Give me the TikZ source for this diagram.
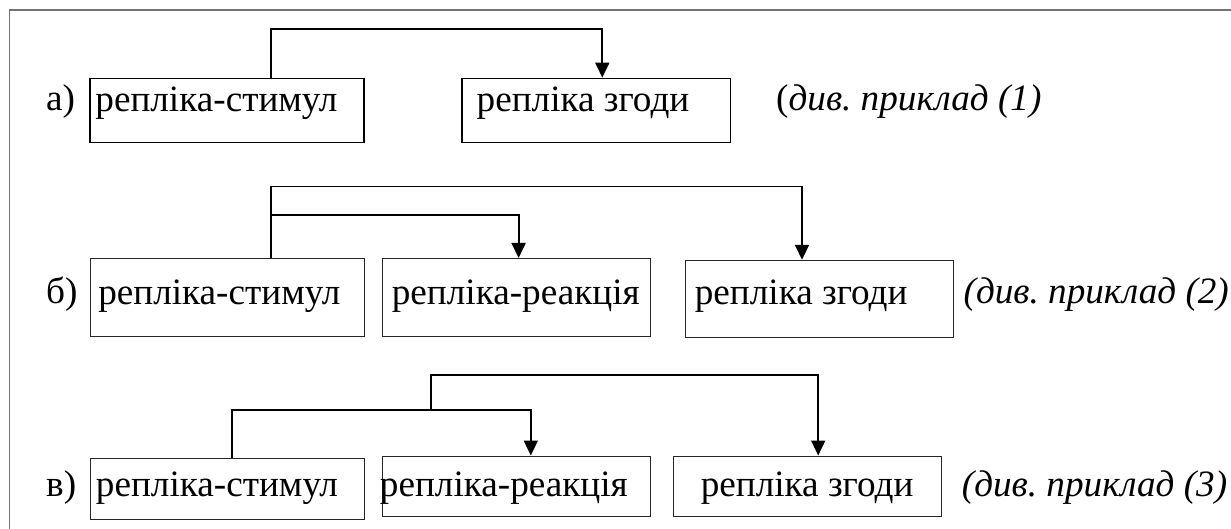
\documentclass[tikz,border=0pt]{standalone}
\usepackage{fontspec}
\setmainfont{Liberation Serif}
\usetikzlibrary{arrows.meta}
\frenchspacing
\newcommand\boxtxt[3]{\makebox[#1][l]{\hspace*{#2}#3}}
\newcommand\boxctr[2]{\makebox[#1][c]{#2}}
\tikzset{
  rbox/.style={draw, inner sep=0pt, anchor=north west, font=\fontsize{37.2}{42}\selectfont},
  thickbox/.style={rbox, line width=1.8pt},
  thinbox/.style={rbox, line width=0.9pt, draw=black!85},
  lbl/.style={inner sep=0pt, anchor=base west, font=\fontsize{37.2}{42}\selectfont},
  conn/.style={line width=1.8pt, line join=miter, -{Triangle[length=15pt,width=14pt]}},
  wire/.style={line width=1.8pt, line join=miter},
  frame/.style={line width=1.2pt, draw=black!55}
}
\begin{document}
\begin{tikzpicture}[x=1pt,y=-1pt]
\useasboundingbox (0,0) rectangle (1231,529);
\draw[frame] (1232,10) -- (9.4,10) -- (9.4,530);

% row a
\node[lbl] (la) at (46,111) {а)};
\node[thickbox, text height=33.4pt, text depth=30.7pt] (a1) at (89.4,77.6) {\boxtxt{273.6pt}{5.1pt}{репліка-стимул}};
\node[thickbox, text height=33.4pt, text depth=30.7pt] (a2) at (461.3,77.6) {\boxtxt{268.2pt}{14.5pt}{репліка згоди}};
\node[lbl] (na) at (776,111) {(\textit{див. приклад (1)}};
\draw[conn] ([xshift=181.2pt]a1.north west) |- (602.3,29.4) -- (602.3,0 |- a2.north);

% row b
\node[lbl] (lb) at (46,303.6) {б)};
\node[thinbox, text height=45.6pt, text depth=32.1pt] (b1) at (90,258) {\boxtxt{273.7pt}{7.8pt}{репліка-стимул}};
\node[thinbox, text height=45.6pt, text depth=32.1pt] (b2) at (382,258) {\boxtxt{268pt}{9.4pt}{репліка-реакція}};
\node[thinbox, text height=43.8pt, text depth=33.8pt] (b3) at (685,259.8) {\boxtxt{268.3pt}{9.4pt}{репліка згоди}};
\node[lbl] (nb) at (963.4,303.6) {\textit{(див. приклад (2)}};
\coordinate (bj) at (270.6,215);
\draw[conn] ([xshift=180.6pt]b1.north west) |- (802,186.6) -- (802,0 |- b3.north);
\draw[conn] (bj) -| (518.6,0 |- b2.north);

% row c
\node[lbl] (lc) at (46,496) {в)};
\node[thinbox, text height=38.2pt, text depth=23pt] (c1) at (90,457.8) {\boxtxt{273.7pt}{5.5pt}{репліка-стимул}};
\node[thinbox, text height=40.5pt, text depth=20.2pt] (c2) at (382,455.5) {\boxtxt{268pt}{-2.5pt}{репліка-реакція}};
\node[thinbox, text height=40.5pt, text depth=20.2pt] (c3) at (672.5,455.5) {\boxctr{268.3pt}{репліка згоди}};
\node[lbl] (nc) at (961.7,496) {\textit{(див. приклад (3)}};
\coordinate (cj) at (431.3,410);
\draw[wire] ([xshift=141.8pt]c1.north west) |- (cj);
\draw[conn] (231.8,410) -| (530.8,0 |- c2.north);
\draw[conn] (cj) |- (818.2,375.2) -- (818.2,0 |- c3.north);
\end{tikzpicture}
\end{document}
